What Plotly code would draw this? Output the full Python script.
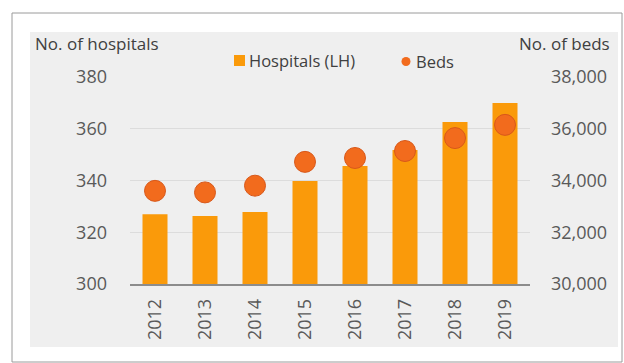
import plotly.graph_objects as go

years = ["2012", "2013", "2014", "2015", "2016", "2017", "2018", "2019"]
hospitals = [327, 326.3, 327.8, 339.8, 345.6, 351.8, 362.6, 370]
beds = [33600, 33540, 33800, 34720, 34870, 35140, 35640, 36150]

left_ticks = [300, 320, 340, 360, 380]
right_ticks = [30000, 32000, 34000, 36000, 38000]
right_tick_text = ["30,000", "32,000", "34,000", "36,000", "38,000"]

W, H = 624, 363
L, R, T, B = 130, 94, 77, 79
pw, ph = W - L - R, H - T - B

def px(x):
    return (x - L) / pw

def py(y):
    return (H - B - y) / ph

FONT = "Open Sans"
TICK_COL = "#595959"
BAR_COL = "#FA9A0A"
DOT_COL = "#F26B1D"

fig = go.Figure()
fig.add_trace(go.Bar(
    x=years, y=hospitals, name="Hospitals (LH)",
    marker=dict(color=BAR_COL, line=dict(width=0)), width=0.5,
    yaxis="y", showlegend=False,
))
fig.add_trace(go.Scatter(
    x=years, y=beds, name="Beds", mode="markers",
    marker=dict(color=DOT_COL, size=21, line=dict(color="#D8581A", width=1)),
    yaxis="y2", showlegend=False,
))

shapes = [
    dict(type="rect", xref="paper", yref="paper", x0=px(12), x1=px(622), y0=py(362), y1=py(13),
         line=dict(color="#9a9a9a", width=1), fillcolor="white", layer="below"),
    dict(type="rect", xref="paper", yref="paper", x0=px(30), x1=px(618), y0=py(347), y1=py(32),
         line=dict(width=0), fillcolor="#EFEFEF", layer="below"),
    # legend symbols
    dict(type="rect", xref="paper", yref="paper", x0=px(234), x1=px(245), y0=py(66), y1=py(55),
         line=dict(width=0), fillcolor=BAR_COL),
    dict(type="circle", xref="paper", yref="paper", x0=px(401.5), x1=px(410.5), y0=py(66), y1=py(57),
         line=dict(width=0), fillcolor=DOT_COL),
]

fig.update_layout(
    width=W, height=H,
    margin=dict(l=L, r=R, t=T, b=B, pad=0),
    paper_bgcolor="white", plot_bgcolor="rgba(0,0,0,0)",
    font=dict(family=FONT, color=TICK_COL),
    shapes=shapes,
    showlegend=False,
    xaxis=dict(type="category", showgrid=False, showline=True, linecolor="#8c8c8c", linewidth=1.5,
               tickangle=-90, tickfont=dict(size=18, color=TICK_COL), ticks="",
               ticklabelstandoff=6, range=[-0.5, 7.5]),
    yaxis=dict(range=[300, 380], tickvals=left_ticks, showgrid=True, gridcolor="#DCDCDC",
               gridwidth=1, zeroline=False, tickfont=dict(size=18, color=TICK_COL),
               ticklabelstandoff=22, showline=False),
    yaxis2=dict(range=[30000, 38000], tickvals=right_ticks, ticktext=right_tick_text,
                overlaying="y", side="right", showgrid=False, zeroline=False,
                tickfont=dict(size=18, color=TICK_COL), ticklabelstandoff=20),
    annotations=[
        dict(text="No. of hospitals", xref="paper", yref="paper", x=px(33), y=py(44),
             xanchor="left", yanchor="middle", showarrow=False,
             font=dict(size=17, color="#404040")),
        dict(text="No. of beds", xref="paper", yref="paper", x=px(612), y=py(44),
             xanchor="right", yanchor="middle", showarrow=False,
             font=dict(size=17, color="#404040")),
        dict(text="Hospitals (LH)", xref="paper", yref="paper", x=px(247), y=py(60),
             xanchor="left", yanchor="middle", showarrow=False,
             font=dict(size=16.5, color="#404040")),
        dict(text="Beds", xref="paper", yref="paper", x=px(414), y=py(61),
             xanchor="left", yanchor="middle", showarrow=False,
             font=dict(size=16.5, color="#404040")),
    ],
)

fig.write_html("out.html")
